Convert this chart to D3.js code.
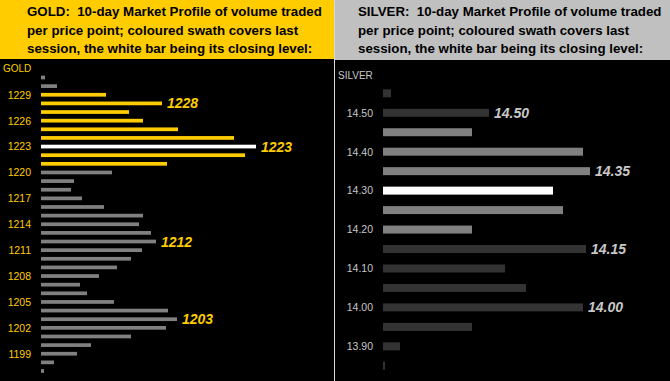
<!DOCTYPE html>
<html>
<head>
<meta charset="utf-8">
<script src="https://cdn.jsdelivr.net/npm/d3@7"></script>
<style>
  body { margin: 0; background: #000; }
  svg { display: block; font-family: "Liberation Sans", Arial, sans-serif; }
</style>
</head>
<body>
<svg id="chart" width="670" height="381"></svg>
<script>
// gold: price levels (top to bottom) and 10-day volume at each
const goldPrices = [1231, 1230, 1229, 1228, 1227, 1226, 1225, 1224, 1223, 1222, 1221, 1220,
  1219, 1218, 1217, 1216, 1215, 1214, 1213, 1212, 1211, 1210, 1209, 1208, 1207, 1206,
  1205, 1204, 1203, 1202, 1201, 1200, 1199, 1198, 1197];
const goldVolume = [4, 16, 65, 121, 88, 102, 137, 193, 215, 204, 126, 71,
  33, 30, 41, 63, 102, 98, 110, 115, 101, 90, 76, 58, 39, 46,
  73, 127, 136, 125, 90, 50, 36, 13, 3];
const goldSwath = [1229, 1228, 1227, 1226, 1225, 1224, 1223, 1222, 1221];
const goldClose = 1223;
const goldCallouts = [1228, 1223, 1212, 1203];
const goldTicks = [1229, 1226, 1223, 1220, 1217, 1214, 1211, 1208, 1205, 1202, 1199];

// silver
const silverPrices = [14.55, 14.50, 14.45, 14.40, 14.35, 14.30, 14.25, 14.20, 14.15,
  14.10, 14.05, 14.00, 13.95, 13.90, 13.85];
const silverVolume = [8, 106, 89, 200, 207, 170, 180, 89, 203, 122, 143, 200, 89, 17, 2];
const silverSwath = [14.45, 14.40, 14.35, 14.30, 14.25, 14.20];
const silverClose = 14.30;
const silverCallouts = [14.50, 14.35, 14.15, 14.00];
const silverTicks = [14.50, 14.40, 14.30, 14.20, 14.10, 14.00, 13.90];

const headerLines = [
  ":  10-day Market Profile of volume traded",
  "per price point; coloured swath covers last",
  "session, the white bar being its closing level:"
];

const svg = d3.select("#chart");

function drawPanel(p) {
  const g = svg.append("g");

  g.append("rect")
    .attr("x", p.x0).attr("y", 0)
    .attr("width", p.w).attr("height", p.headH)
    .attr("fill", p.headFill);

  g.append("text")
    .attr("x", p.x0 + p.textX)
    .attr("y", 0)
    .style("font-size", "13.3px")
    .style("font-weight", "bold")
    .style("white-space", "pre")
    .attr("fill", "#000")
    .selectAll("tspan")
    .data(headerLines)
    .enter().append("tspan")
      .attr("x", p.x0 + p.textX)
      .attr("y", (d, i) => 16 + i * 18.6)
      .text((d, i) => i === 0 ? p.name + d : d);

  g.append("text")
    .attr("x", p.x0 + 3)
    .attr("y", p.nameY)
    .attr("fill", p.labelColor)
    .style("font-size", "10px")
    .text(p.name);

  const y = d3.scalePoint()
    .domain(p.prices)
    .range(p.yRange);

  const x = d3.scaleLinear()
    .domain([0, d3.max(p.volume)])
    .range([p.barLeft, p.barRight]);

  const barH = y.step() * p.barFrac;

  const rows = p.prices.map((price, i) => ({price: price, vol: p.volume[i]}));

  g.selectAll(".bar")
    .data(rows)
    .enter().append("rect")
      .attr("class", "bar")
      .attr("x", x(0))
      .attr("y", d => y(d.price) - barH / 2)
      .attr("width", d => x(d.vol) - x(0))
      .attr("height", barH)
      .attr("fill", d => {
        if (d.price === p.close) return "#ffffff";
        if (p.swath.includes(d.price)) return p.swathFill;
        return p.restFill;
      });

  const axis = d3.axisLeft(y)
    .tickValues(p.ticks)
    .tickSize(0)
    .tickPadding(10)
    .tickFormat(p.fmt);

  const ax = g.append("g")
    .attr("transform", "translate(" + p.barLeft + ",0)")
    .call(axis);
  ax.select(".domain").remove();
  ax.selectAll("text")
    .attr("fill", p.labelColor)
    .style("font-size", "10.5px")
    .style("font-family", "\"Liberation Sans\", Arial, sans-serif");

  g.selectAll(".callout")
    .data(rows.filter(d => p.callouts.includes(d.price)))
    .enter().append("text")
      .attr("class", "callout")
      .attr("x", d => x(d.vol) + 5)
      .attr("y", d => y(d.price))
      .attr("dy", "0.36em")
      .attr("fill", p.calloutColor)
      .style("font-size", "14px")
      .style("font-weight", "bold")
      .style("font-style", "italic")
      .text(d => p.fmt(d.price));
}

drawPanel({
  name: "GOLD", x0: 0, w: 334, headH: 59, headFill: "#ffcc00", textX: 27, nameY: 72,
  prices: goldPrices, volume: goldVolume, swath: goldSwath, close: goldClose,
  callouts: goldCallouts, ticks: goldTicks, fmt: d3.format("d"),
  yRange: [77.5, 371], barLeft: 41, barRight: 256, barFrac: 0.43,
  swathFill: "#ffcc00", restFill: "#808080", labelColor: "#ffcc00", calloutColor: "#ffcc00"
});

drawPanel({
  name: "SILVER", x0: 335, w: 335, headH: 60, headFill: "#c0c0c0", textX: 23, nameY: 79,
  prices: silverPrices, volume: silverVolume, swath: silverSwath, close: silverClose,
  callouts: silverCallouts, ticks: silverTicks, fmt: d3.format(".2f"),
  yRange: [93.3, 365.8], barLeft: 383, barRight: 590, barFrac: 0.41,
  swathFill: "#808080", restFill: "#333333", labelColor: "#c8c8c8", calloutColor: "#c8c8c8"
});

// divider between the two panels
svg.append("rect")
  .attr("x", 334).attr("y", 0)
  .attr("width", 1).attr("height", 381)
  .attr("fill", "#d8d8d8");
</script>
</body>
</html>
